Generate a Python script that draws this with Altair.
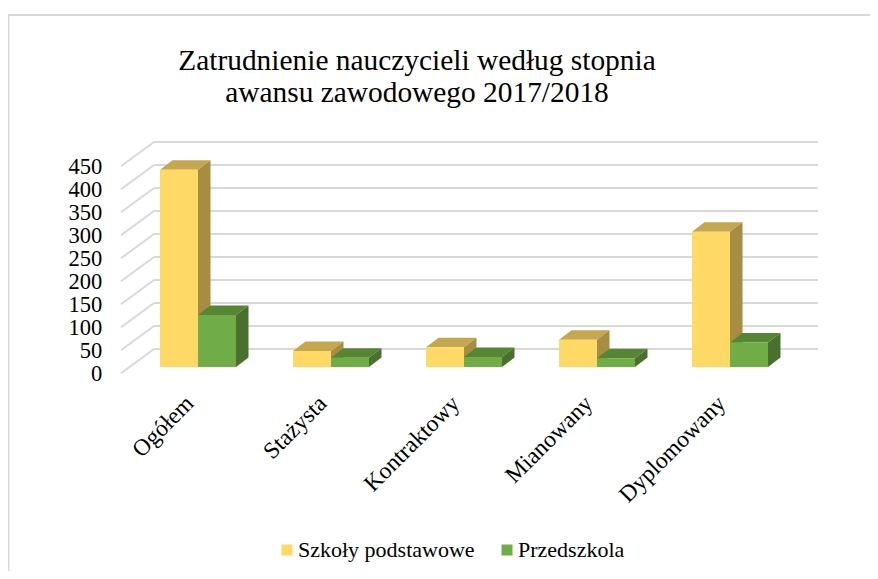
import json
import altair as alt
import pandas as pd

TITLE = ["Zatrudnienie nauczycieli według stopnia", "awansu zawodowego 2017/2018"]
CATEGORIES = ["Ogółem", "Stażysta", "Kontraktowy", "Mianowany", "Dyplomowany"]
SERIES = ["Szkoły podstawowe", "Przedszkola"]
SZKOLY = [429, 35, 43, 59, 294]
PRZEDSZKOLA = [113, 20, 22, 19, 53]
Y_TICKS = [0, 50, 100, 150, 200, 250, 300, 350, 400, 450]

FRONT = ["#FFD966", "#70AD47"]
SIDE = ["#A68D42", "#49702E"]
TOP = ["#C4A74E", "#568534"]
GRID = "#D9D9D9"
FONT = "Liberation Serif"

W, H = 862, 563
PX_X = 133.0   # pixels per category
PX_Y = 0.46    # pixels per unit
x_scale = alt.Scale(domain=[-190 / PX_X, (W - 190) / PX_X], nice=False, zero=False)
y_scale = alt.Scale(domain=[(365.3 - H) / PX_Y, 365.3 / PX_Y], nice=False, zero=False)

BAR_W = 38 / PX_X
BASE = 6.3 / PX_Y
DEPTH_X = 12.5 / PX_X
DEPTH_Y = 9.5 / PX_Y
WALL_X0 = -77 / PX_X
WALL_X1 = -44 / PX_X
WALL_END = 620 / PX_X
WALL_DY = 24.3 / PX_Y

label_expr = json.dumps(CATEGORIES, ensure_ascii=False) + "[datum.value]"
x_axis = alt.Axis(
    values=list(range(len(CATEGORIES))), labelExpr=label_expr,
    labelAngle=-45, labelFont=FONT, labelFontSize=23.5, labelColor="#000000",
    domain=False, ticks=False, grid=False, title=None,
    labelOverlap=False, labelBound=False, labelFlush=False,
    labelPadding=0, labelOffset=-17, offset=-(H - 383),
)
y_axis = alt.Axis(
    values=Y_TICKS, labelFont=FONT, labelFontSize=22.5, labelColor="#000000",
    domain=False, ticks=False, grid=False, title=None, labelOverlap=False,
    labelBound=False, labelFlush=False,
    labelPadding=0, offset=-93.7, format="d",
)
X = alt.X("x:Q", scale=x_scale, axis=x_axis)
Y = alt.Y("y:Q", scale=y_scale, axis=y_axis)

grid_back = pd.DataFrame({"x": WALL_X1, "x2": WALL_END,
                          "y": [t + WALL_DY for t in Y_TICKS]})
grid_diag = pd.DataFrame({"x": WALL_X0, "x2": WALL_X1, "y": Y_TICKS,
                          "y2": [t + WALL_DY for t in Y_TICKS]})

back_layer = (
    alt.Chart(grid_back)
    .mark_rule(color=GRID, strokeWidth=2)
    .encode(x=X, x2="x2:Q", y=Y)
)
diag_layer = (
    alt.Chart(grid_diag)
    .mark_rule(color=GRID, strokeWidth=2)
    .encode(x=X, x2="x2:Q", y=Y, y2="y2:Q")
)

border_top = alt.Chart(pd.DataFrame({"v": [0]})).mark_rule(color=GRID, strokeWidth=2).encode(
    x=alt.value(0), x2=alt.value(W), y=alt.value(7))
border_left = alt.Chart(pd.DataFrame({"v": [0]})).mark_rule(color=GRID, strokeWidth=2).encode(
    x=alt.value(0.5), y=alt.value(7), y2=alt.value(H))


def faces(values, series_index):
    start = -BAR_W + series_index * BAR_W
    name = SERIES[series_index]
    front, side, top = [], [], []
    for i, v in enumerate(values):
        x0 = i + start
        x1 = x0 + BAR_W
        yb = BASE
        yt = BASE + v
        front.append({"x": x0, "x2": x1, "y": yb, "y2": yt, "series": name})
        side += [
            {"i": i, "x": x1, "y": yb, "y2": yt},
            {"i": i, "x": x1 + DEPTH_X, "y": yb + DEPTH_Y, "y2": yt + DEPTH_Y},
        ]
        top += [
            {"i": i, "x": x0, "y": yt, "y2": yt},
            {"i": i, "x": x0 + DEPTH_X, "y": yt, "y2": yt + DEPTH_Y},
            {"i": i, "x": x1, "y": yt, "y2": yt + DEPTH_Y},
            {"i": i, "x": x1 + DEPTH_X, "y": yt + DEPTH_Y, "y2": yt + DEPTH_Y},
        ]
    top_l = (
        alt.Chart(pd.DataFrame(top))
        .mark_area(color=TOP[series_index], interpolate="linear")
        .encode(x=X, y=Y, y2="y2:Q", detail="i:N")
    )
    side_l = (
        alt.Chart(pd.DataFrame(side))
        .mark_area(color=SIDE[series_index], interpolate="linear")
        .encode(x=X, y=Y, y2="y2:Q", detail="i:N")
    )
    front_l = (
        alt.Chart(pd.DataFrame(front))
        .mark_rect()
        .encode(
            x=X, x2="x2:Q", y=Y, y2="y2:Q",
            color=alt.Color(
                "series:N",
                scale=alt.Scale(domain=SERIES, range=FRONT),
                legend=alt.Legend(
                    title=None, orient="none", direction="horizontal",
                    legendX=268, legendY=531,
                    symbolType="square", symbolSize=121, symbolStrokeWidth=0,
                    labelFont=FONT, labelFontSize=22, labelColor="#000000",
                    labelLimit=300, columnPadding=21, labelOffset=0,
                ),
            ),
        )
    )
    return [top_l, side_l, front_l]


layers = [border_top, border_left, back_layer, diag_layer]
layers += faces(SZKOLY, 0)
layers += faces(PRZEDSZKOLA, 1)

chart = (
    alt.layer(*layers)
    .properties(
        width=W, height=H, padding=0, background="white",
        autosize=alt.AutoSizeParams(type="none", contains="padding"),
        title=alt.TitleParams(
            text=TITLE, font=FONT, fontSize=29.4, fontWeight="normal", color="#000000",
            anchor="middle", dx=-22, offset=-100, lineHeight=32,
        ),
    )
    .configure_view(strokeWidth=0, stroke="transparent")
)
chart.save("out.html", embed_options={"renderer": "svg", "actions": False})
